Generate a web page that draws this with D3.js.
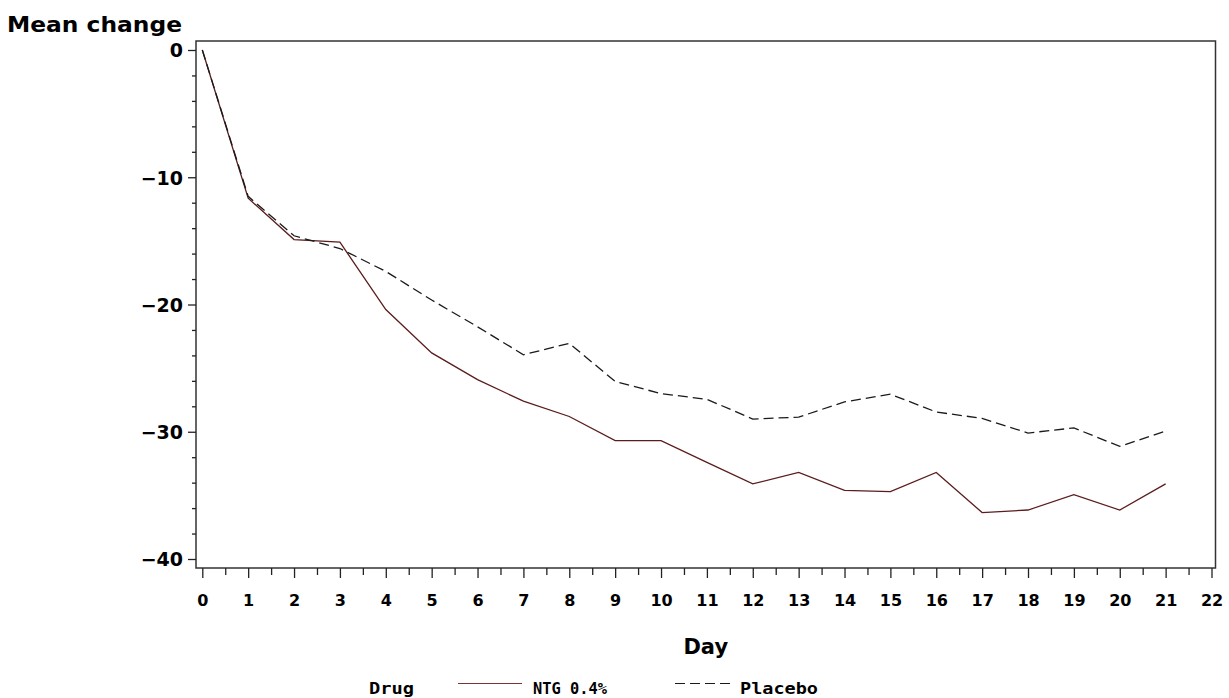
<!DOCTYPE html>
<html>
<head>
<meta charset="utf-8">
<script src="https://cdn.jsdelivr.net/npm/d3@7"></script>
<style>
  body { margin: 0; background: #fff; }
  svg { display: block; }
  .tick text { font-family: "DejaVu Sans", sans-serif; font-weight: bold; fill: #000; }
  .tick line { stroke: #222; stroke-width: 1.3; }
</style>
</head>
<body>
<svg width="1229" height="698"></svg>
<script>
// mean change from baseline by day
var days = [0, 1, 2, 3, 4, 5, 6, 7, 8, 9, 10, 11, 12, 13, 14, 15, 16, 17, 18, 19, 20, 21];
var ntg = [0, -11.65, -14.9, -15.1, -20.4, -23.8, -25.9, -27.6, -28.8, -30.7, -30.7, -32.4,
           -34.1, -33.2, -34.6, -34.7, -33.2, -36.35, -36.15, -34.95, -36.15, -34.1];
var placebo = [0, -11.5, -14.6, -15.6, -17.4, -19.65, -21.75, -23.95, -23.05, -26.05, -27.0, -27.45,
               -29.0, -28.85, -27.65, -27.05, -28.45, -28.95, -30.1, -29.7, -31.15, -29.95];
var yTicks = [0, -10, -20, -30, -40];
var yMinor = [-2, -4, -6, -8, -12, -14, -16, -18, -22, -24, -26, -28, -32, -34, -36, -38];
var xTicks = d3.range(0, 23);
var xMinor = d3.range(0.5, 22, 1);
var seriesNames = ["NTG 0.4%", "Placebo"];

var svg = d3.select("svg");

var frame = {left: 196, top: 41, right: 1215.5, bottom: 568};

var x = d3.scaleLinear().domain([0, 22]).range([202.3, 1211.5]);
var y = d3.scaleLinear().domain([0, -40]).range([50, 559]);

svg.append("rect")
    .attr("width", 1229).attr("height", 698)
    .attr("fill", "#fff");

// plot frame
svg.append("rect")
    .attr("x", frame.left).attr("y", frame.top)
    .attr("width", frame.right - frame.left)
    .attr("height", frame.bottom - frame.top)
    .attr("fill", "none")
    .attr("stroke", "#333")
    .attr("stroke-width", 1.5);

// y axis
var yAxis = svg.append("g")
    .attr("transform", "translate(" + frame.left + ",0)")
    .call(d3.axisLeft(y).tickValues(yTicks).tickSize(8).tickPadding(5));
yAxis.select(".domain").remove();
yAxis.selectAll(".tick text").attr("font-size", 19).attr("dy", "0.36em");

var yAxisMinor = svg.append("g")
    .attr("transform", "translate(" + frame.left + ",0)")
    .call(d3.axisLeft(y).tickValues(yMinor).tickSize(4).tickFormat(""));
yAxisMinor.select(".domain").remove();

// x axis
var xAxis = svg.append("g")
    .attr("transform", "translate(0," + frame.bottom + ")")
    .call(d3.axisBottom(x).tickValues(xTicks).tickSize(10).tickPadding(17));
xAxis.select(".domain").remove();
xAxis.selectAll(".tick text").attr("font-size", 16);

var xAxisMinor = svg.append("g")
    .attr("transform", "translate(0," + frame.bottom + ")")
    .call(d3.axisBottom(x).tickValues(xMinor).tickSize(7).tickFormat(""));
xAxisMinor.select(".domain").remove();

// titles
svg.append("text")
    .attr("x", 7).attr("y", 32)
    .attr("font-family", "DejaVu Sans, sans-serif")
    .attr("font-weight", "bold")
    .attr("font-size", 22)
    .attr("textLength", 175)
    .attr("lengthAdjust", "spacingAndGlyphs")
    .text("Mean change");

svg.append("text")
    .attr("x", (frame.left + frame.right) / 2).attr("y", 654)
    .attr("text-anchor", "middle")
    .attr("font-family", "DejaVu Sans, sans-serif")
    .attr("font-weight", "bold")
    .attr("font-size", 21)
    .text("Day");

// lines
var line = d3.line()
    .x(function(d, i) { return x(days[i]); })
    .y(function(d) { return y(d); });

svg.append("path")
    .datum(ntg)
    .attr("d", line)
    .attr("fill", "none")
    .attr("stroke", "#5a1c1c")
    .attr("stroke-width", 1.3);

svg.append("path")
    .datum(placebo)
    .attr("d", line)
    .attr("fill", "none")
    .attr("stroke", "#1a1a1a")
    .attr("stroke-width", 1.3)
    .attr("stroke-dasharray", "10,5");

// legend
var legend = svg.append("g")
    .attr("font-family", "DejaVu Sans Mono, monospace")
    .attr("font-weight", "bold")
    .attr("font-size", 16);

legend.append("text")
    .attr("x", 369).attr("y", 694)
    .attr("textLength", 45)
    .attr("lengthAdjust", "spacingAndGlyphs")
    .text("Drug");

legend.append("line")
    .attr("x1", 458).attr("x2", 522)
    .attr("y1", 683.5).attr("y2", 683.5)
    .attr("stroke", "#7a3434")
    .attr("stroke-width", 1.2);

legend.append("text")
    .attr("x", 533).attr("y", 694)
    .attr("textLength", 74)
    .attr("lengthAdjust", "spacingAndGlyphs")
    .text(seriesNames[0]);

legend.append("line")
    .attr("x1", 675).attr("x2", 730)
    .attr("y1", 683.5).attr("y2", 683.5)
    .attr("stroke", "#1a1a1a")
    .attr("stroke-width", 1.2)
    .attr("stroke-dasharray", "10,5");

legend.append("text")
    .attr("x", 740).attr("y", 694)
    .attr("textLength", 78)
    .attr("lengthAdjust", "spacingAndGlyphs")
    .text(seriesNames[1]);
</script>
</body>
</html>
